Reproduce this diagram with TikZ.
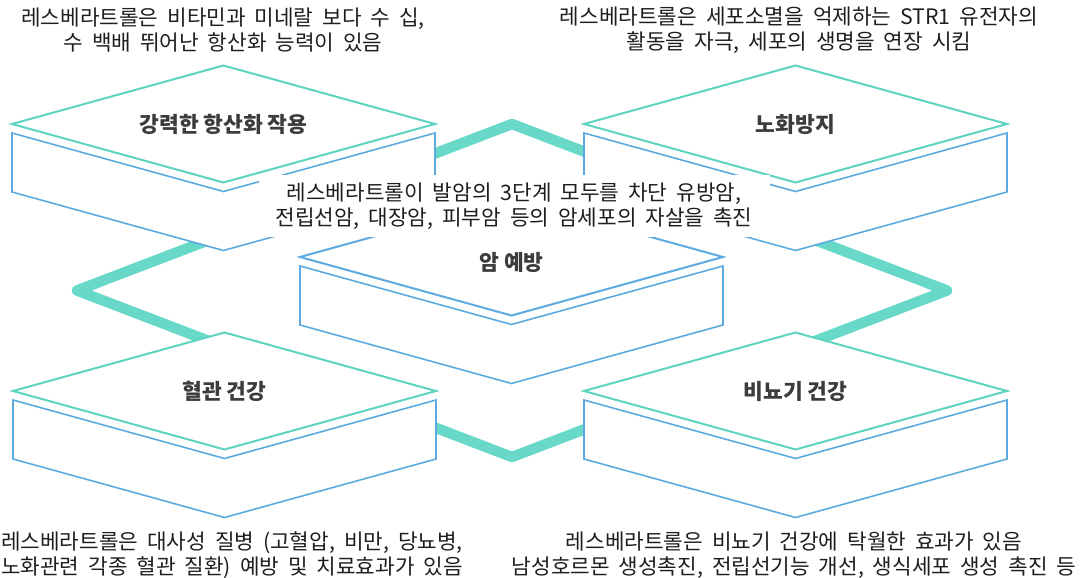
\documentclass[tikz,border=0pt]{standalone}
\usepackage{fontspec}
\newfontfamily\kr{Noto Sans CJK KR}
\definecolor{teal}{RGB}{94,212,192}
\definecolor{blueline}{RGB}{92,170,224}
\definecolor{band}{RGB}{104,216,200}
\definecolor{lbltext}{RGB}{60,60,60}
\definecolor{desctext}{RGB}{30,30,30}
\def\bw{211.5}
\def\bh{58.5}
\newcommand\descfont{\kr\fontsize{21.3}{25.5}\selectfont\spaceskip 0.42em plus 0.1em\relax}
\newcommand\lblfont{\kr\bfseries\fontsize{21.5}{24}\selectfont}
\newcommand\isoblock[6]{%
  \begin{scope}[shift={(#2,#3)}]
    \fill[white] (-\bw,0) -- (0,-\bh) -- (\bw,0) -- (\bw,68) -- (0,\bh+68) -- (-\bw,68) -- cycle;
    \draw[sideline] (-\bw,9) -- (0,\bh+9) -- (\bw,9) -- (\bw,68) -- (0,\bh+68) -- (-\bw,68) -- cycle;
    \draw[topline,draw=#4] (-\bw,0) -- (0,-\bh) -- (\bw,0) -- (0,\bh) -- cycle;
    \node[lbl,#6] (#1) at (0,0) {#5};
  \end{scope}}
\tikzset{
  sideline/.style={draw=blueline, line width=1.6pt, line join=miter},
  topline/.style={line width=2pt, fill=white, line join=miter},
  bandline/.style={draw=band, line width=10.5pt, line join=round},
  lbl/.style={font=\lblfont, text=lbltext, inner sep=0pt},
  desc/.style={font=\descfont, text=desctext, align=center, inner sep=0pt},
}
\begin{document}
\begin{tikzpicture}[x=1pt,y=-1pt]
\useasboundingbox (0,0) rectangle (1087,578);
\clip (0,0) rectangle (1087,578);
% connecting band
\coordinate (ztop) at (512,124);
\coordinate (zright) at (947,290.5);
\coordinate (zbot) at (512,457);
\coordinate (zleft) at (77,290.5);
\draw[bandline] (ztop) -- (zright) -- (zbot) -- (zleft) -- cycle;
% blocks
\isoblock{anti}{223.5}{124}{teal}{강력한 항산화 작용}{}
\isoblock{aging}{795.5}{124}{teal}{노화방지}{}
\isoblock{cancer}{511.5}{257}{blueline}{암 예방}{yshift=-5pt}
\isoblock{vessel}{224.5}{391}{teal}{혈관 건강}{}
\isoblock{uro}{795.5}{391}{teal}{비뇨기 건강}{}
% centre description with white backing
\node[desc, fill=white, minimum width=511pt, minimum height=62pt] (cdesc) at (514,206)
  {레스베라트롤이 발암의 3단계 모두를 차단 유방암,\\전립선암, 대장암, 피부암 등의 암세포의 자살을 촉진};
% outer descriptions
\node[desc] (dtl) at (223,30) {레스베라트롤은 비타민과 미네랄 보다 수 십,\\수 백배 뛰어난 항산화 능력이 있음};
\node[desc] (dtr) at (799,30) {레스베라트롤은 세포소멸을 억제하는 STR1 유전자의\\활동을 자극, 세포의 생명을 연장 시킴};
\node[desc] (dbl) at (232,555) {레스베라트롤은 대사성 질병 (고혈압, 비만, 당뇨병,\\노화관련 각종 혈관 질환) 예방 및 치료효과가 있음};
\node[desc] (dbr) at (794,555) {레스베라트롤은 비뇨기 건강에 탁월한 효과가 있음\\남성호르몬 생성촉진, 전립선기능 개선, 생식세포 생성 촉진 등};
\end{tikzpicture}
\end{document}
